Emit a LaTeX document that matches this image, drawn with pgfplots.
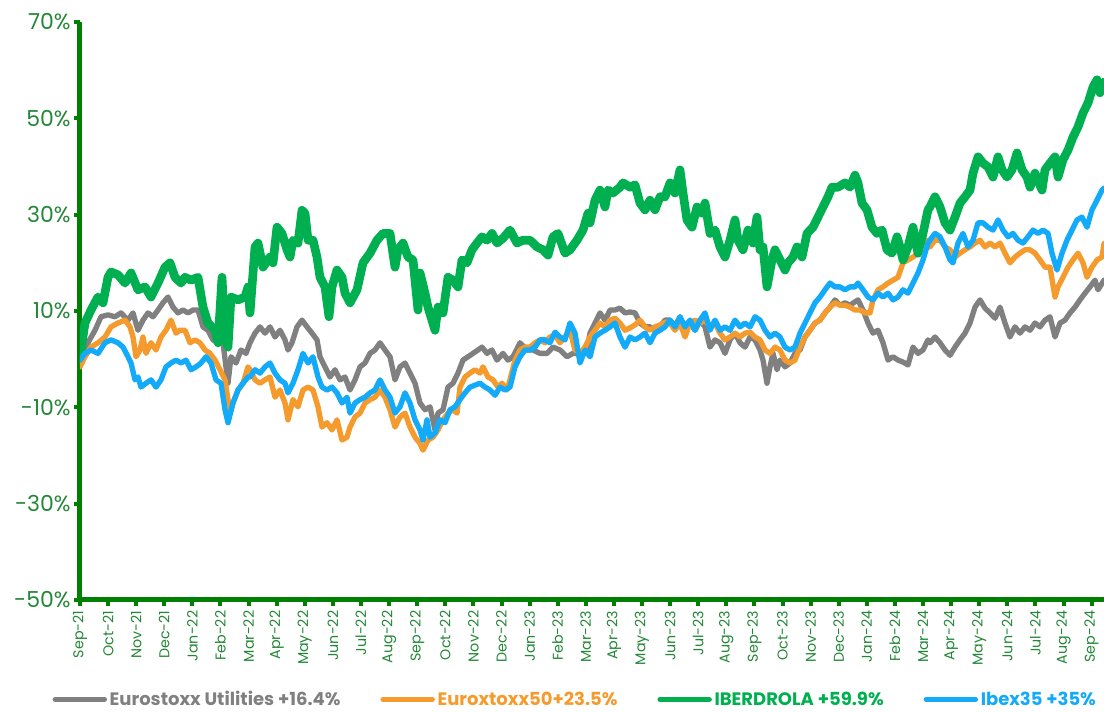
\documentclass[border=0pt]{standalone}
\usepackage{pgfplots}
\pgfplotsset{compat=1.18}
\usepackage{fontspec}
\setmainfont{Poppins}
\definecolor{cgray}{RGB}{128,128,128}
\definecolor{corange}{RGB}{245,155,45}
\definecolor{cgreen}{RGB}{0,176,80}
\definecolor{cblue}{RGB}{20,170,250}
\definecolor{axisgreen}{RGB}{0,128,0}
\definecolor{labelgreen}{RGB}{35,135,55}
\begin{document}
\begin{tikzpicture}
\begin{axis}[
  scale only axis, width=768pt, height=433.5pt,
  xmin=0, xmax=1024, ymin=-50, ymax=70,
  axis x line=bottom, axis y line=left,
  axis line style={-, line width=3.75pt, color=axisgreen},
  ytick={-50,-30,-10,10,30,50,70},
  yticklabels={-50\%,-30\%,-10\%,10\%,30\%,50\%,70\%},
  xtick={0,28.1,...,1012},
  xticklabels={Sep-21,Oct-21,Nov-21,Dec-21,Jan-22,Feb-22,Mar-22,Apr-22,May-22,Jun-22,Jul-22,Aug-22,Sep-22,Oct-22,Nov-22,Dec-22,Jan-23,Feb-23,Mar-23,Apr-23,May-23,Jun-23,Jul-23,Aug-23,Sep-23,Oct-23,Nov-23,Dec-23,Jan-24,Feb-24,Mar-24,Apr-24,May-24,Jun-24,Jul-24,Aug-24,Sep-24},
  tick style={line width=3pt, color=axisgreen},
  major tick length=4.5pt, tick align=outside,
  ticklabel style={text=labelgreen},
  y tick label style={font=\fontsize{16.5}{16.5}\selectfont, xshift=1pt},
  x tick label style={rotate=90, anchor=east, font=\fontsize{10.7}{10.7}\selectfont},
  legend columns=4,
  legend style={at={(0.484,-0.172)}, anchor=center, draw=none, fill=none,
    font=\fontsize{13.5}{14}\selectfont\bfseries,
    /tikz/every even column/.append style={column sep=28pt}},
  legend image code/.code={\draw[#1, line width=3.8pt] (0pt,0pt) -- (37pt,0pt);},
  every axis plot/.append style={line join=round, line cap=round},
]
\coordinate (O) at (rel axis cs:0,0);
\addplot[cgray, line width=4pt] coordinates {
(0,0) (8,3.4) (15,6) (21,8.8) (28,9.2) (35,8.8) (41,9.6) (48,8.1) (53,9.6) (58,6) (63,8.1) (68,9.6) (73,8.8) (78,10.2) (83,11.7) (88,12.9) (93,10.8) (98,9.6) (103,10.2) (108,9.6) (113,10.2) (118,10.2) (123,6.7) (128,6) (133,4) (138,3.4) (143,3.4) (148,-5) (151,0.5) (156,-0.8) (161,1.9) (166,1.2) (170,3.4) (175,5.4) (180,6.7) (185,5.4) (190,6.7) (195,4.6) (200,6) (205,4) (208,1.9) (212,3.4) (217,6.7) (222,8.1) (227,6.7) (232,5.4) (237,4) (240,0.5) (245,-1.6) (250,-3.7) (255,-2.2) (260,-4.3) (265,-3.7) (270,-6.4) (275,-4.3) (280,-1.6) (285,-0.8) (290,1.2) (295,1.9) (300,3.4) (305,1.9) (310,0.5) (315,-4.3) (320,-1.6) (325,-0.8) (330,-2.9) (335,-5) (340,-9.1) (345,-10.5) (350,-9.9) (355,-14.7) (358,-11.2) (363,-10.5) (368,-5.8) (373,-5) (378,-2.9) (383,-0.2) (388,0.5) (393,1.2) (398,1.9) (402,2.5) (407,1.2) (412,1.9) (417,-0.2) (423,1.2) (428,-0.2) (433,0.5) (440,3.4) (447,1.9) (453,1.9) (460,1.2) (467,1.2) (473,2.5) (480,1.9) (487,0.5) (493,1.2) (500,1.2) (507,1.9) (510,5.4) (515,7.5) (520,9.6) (525,8.1) (530,10.2) (535,10.2) (540,10.6) (545,9.6) (550,9.8) (555,9.6) (560,7.5) (565,6.7) (570,6.7) (575,6) (580,6.7) (585,8.1) (590,8.1) (595,6.7) (600,8.8) (605,6) (610,7.5) (615,6) (620,8.1) (625,6.7) (630,2.5) (635,4) (640,3.4) (645,1.2) (650,4) (655,5.4) (660,3.4) (665,2.5) (670,4.6) (675,4) (680,1.9) (683,-0.2) (687,-5) (690,-1.6) (693,1.2) (697,-2.2) (700,-0.2) (705,-1.6) (710,-0.8) (715,1.2) (720,1.9) (725,4.6) (730,6) (735,7.5) (740,8.1) (745,9.6) (750,10.8) (755,12.3) (760,11.2) (765,11.7) (770,11.2) (775,11.9) (778,12.3) (783,10.2) (788,7.5) (793,5.4) (798,6) (803,3.4) (808,-0.2) (813,0.5) (818,-0.2) (823,-0.6) (828,-1.2) (833,2.5) (838,1.2) (843,1.9) (848,4) (850,3.4) (855,4.6) (860,3.4) (865,1.9) (870,0.8) (875,2.5) (880,4) (885,5.4) (890,7.5) (895,10.8) (900,12.3) (905,10.6) (910,9.6) (915,8.5) (920,10.8) (925,7.5) (930,4.6) (935,6.7) (940,5.4) (945,6.7) (950,6) (955,7.5) (960,6.7) (965,8.1) (970,8.8) (975,4.6) (980,7.5) (985,8.1) (990,9.6) (995,10.8) (1000,12.3) (1005,13.7) (1010,15) (1015,16.4) (1018,14.4) (1024,16.4)
};
\addlegendentry{\textcolor{cgray}{Eurostoxx Utilities +16.4\%}}
\addplot[corange, line width=4pt] coordinates {
(0,-1.6) (5,0.5) (11,2.5) (18,3.4) (25,4.6) (31,6.7) (38,7.5) (45,8.1) (50,6.7) (53,4.6) (56,0.5) (60,1.9) (63,4.6) (66,1.2) (71,3.4) (76,1.9) (81,4.6) (86,6) (91,8.1) (96,5.4) (100,6) (105,6) (110,3.4) (115,4) (120,3.4) (125,1.9) (130,1.2) (135,-0.2) (140,-2.2) (145,-4.3) (150,-11.2) (153,-9.1) (158,-6.4) (163,-5) (168,-1.6) (170,-2.2) (175,-4.3) (180,-5) (185,-4.3) (190,-3.7) (195,-7.9) (200,-6.4) (205,-9.1) (208,-12.6) (213,-8.4) (218,-9.9) (223,-6.4) (228,-5.8) (233,-6.4) (238,-9.9) (242,-14.1) (247,-13.2) (252,-14.7) (257,-12.6) (262,-16.8) (267,-16.2) (270,-14.1) (275,-12) (280,-11.2) (285,-9.1) (290,-8.4) (295,-7.9) (300,-6.4) (305,-7.9) (310,-10.5) (315,-14.1) (320,-12) (325,-11.2) (330,-14.1) (335,-16.2) (340,-17.5) (343,-18.9) (348,-16.8) (353,-16.2) (358,-14.7) (363,-12.6) (368,-11.2) (373,-10.5) (377,-11.2) (380,-5.8) (385,-3.7) (390,-2.9) (395,-2.2) (400,-2.9) (403,-1.6) (408,-3.7) (413,-4.3) (418,-5.8) (422,-5) (427,-6.4) (430,-4.3) (435,-0.2) (440,1.9) (445,2.5) (450,2.5) (455,3.4) (460,4) (465,3.4) (470,4.6) (475,5) (480,3.4) (485,4.6) (490,6) (495,1.9) (500,1.2) (505,2.5) (510,4.6) (515,6) (520,7.5) (525,6.7) (530,8.1) (535,8.5) (540,7.5) (545,6) (550,6.5) (555,7.1) (560,8.1) (565,6.7) (570,6) (575,6.7) (580,7.1) (585,7.7) (590,7.5) (595,6) (600,7.5) (605,4.6) (610,7.5) (615,8.1) (620,7.5) (625,8.1) (630,6.7) (635,7.5) (640,5.4) (645,4) (650,4.6) (655,5.4) (660,4.6) (665,5.4) (670,5.6) (675,4.6) (680,4) (685,1.9) (690,1.2) (695,2.5) (700,1.9) (705,-0.2) (710,-0.8) (715,-0.2) (720,2.5) (725,4.6) (730,6) (735,7.5) (740,8.1) (745,9.6) (750,10.8) (755,11.7) (760,11.2) (765,11.2) (770,10.8) (775,10.2) (780,10.2) (785,9.6) (790,9.6) (793,12.3) (798,14.4) (803,15) (808,15.8) (813,16.4) (818,17) (823,20) (828,20.6) (833,21.2) (838,22) (843,24.1) (848,24.7) (850,23.3) (855,24.7) (860,24.7) (865,23.3) (870,22.7) (875,21.2) (880,22) (885,22.7) (890,23.3) (895,24.1) (900,24.7) (905,23.3) (910,24.1) (915,23.3) (920,24.1) (925,22) (930,20) (935,21.2) (940,22) (945,22.7) (950,22.7) (955,22) (960,20.6) (965,19.1) (970,19.1) (975,12.9) (978,15) (983,17) (988,19.1) (993,20.6) (998,22) (1003,20) (1007,17) (1012,19.1) (1017,20.6) (1022,21.2) (1024,24)
};
\addlegendentry{\textcolor{corange}{Euroxtoxx50+23.5\%}}
\addplot[cgreen, line width=6.5pt] coordinates {
(0,0.5) (5,7.5) (11,10.2) (18,12.9) (23,11.7) (28,17) (31,18.1) (38,17.5) (45,15.8) (51,17.9) (58,14.4) (65,15) (71,12.9) (78,15.8) (85,19.1) (90,20) (95,17) (101,15.8) (105,17) (111,16.4) (118,17) (123,10.8) (128,7.5) (135,6) (138,3.4) (142,17) (145,4.6) (148,2.5) (151,12.9) (158,12.3) (165,12.9) (168,15) (170,9.6) (175,23.3) (178,24.1) (183,19.1) (190,21.2) (193,20) (197,27.4) (202,26.1) (207,22.7) (210,21.2) (213,24.7) (218,24.1) (222,30.9) (225,30.3) (228,24.7) (233,24.7) (237,21.2) (240,17) (245,15) (249,8.8) (252,15) (257,18.5) (262,17) (265,13.7) (270,11.7) (277,14.4) (283,20) (290,22) (297,24.7) (303,26.1) (310,26.1) (315,19.1) (318,22.7) (323,24.1) (328,21.2) (333,20.6) (338,10.2) (340,17.9) (345,13.7) (348,10.8) (355,6) (358,10.8) (363,9.6) (368,17) (373,16.4) (378,15) (382,20.6) (387,20) (392,22.7) (397,24.1) (402,25.4) (407,24.7) (412,26.1) (417,24.1) (423,25.1) (430,26.8) (437,24.1) (443,24.7) (450,24.7) (457,23.3) (463,22.7) (468,21.6) (473,25.4) (478,26.1) (485,22) (490,22.7) (497,24.7) (503,26.8) (508,30.3) (510,28.3) (515,33) (520,35.1) (525,31.6) (528,35.1) (533,34.5) (540,35.7) (543,36.6) (550,35.7) (555,36.2) (560,32.4) (565,31) (570,33) (575,31) (580,33.7) (585,33.7) (590,36.6) (595,34.5) (600,39.3) (603,34.5) (607,28.9) (612,27.4) (617,31.6) (622,30.3) (625,32.4) (630,26.1) (635,26.8) (640,23.3) (645,21.2) (650,24.7) (655,28.9) (658,24.7) (663,22.7) (668,26.8) (673,24.1) (677,29.5) (680,22.7) (683,23.3) (687,15) (692,20.6) (695,22.7) (700,20.6) (705,18.5) (708,20) (713,21.2) (717,23.3) (722,21.2) (727,26.1) (733,27.4) (738,29.5) (743,31.6) (748,33.7) (752,35.7) (758,35.7) (765,36.6) (770,35.7) (775,38.2) (778,36.6) (782,32.4) (787,31) (792,27.4) (797,26.1) (802,26.8) (807,22.7) (812,22) (817,25.4) (820,23.3) (823,20.6) (828,23.3) (833,27.4) (838,22) (843,26.1) (848,31) (850,31.6) (855,33.7) (860,31.6) (865,28.3) (870,26.8) (875,29.5) (880,32.4) (885,33.7) (890,35.1) (893,38.6) (898,42) (903,40.7) (908,39.9) (913,37.8) (918,42) (922,39.3) (927,37.8) (932,39.3) (937,42.8) (942,39.3) (947,37.8) (950,35.7) (955,38.6) (962,35.1) (965,39.3) (970,40.7) (975,42) (978,37.8) (983,41.4) (988,43.4) (993,46.1) (998,48.2) (1003,51.1) (1008,53.2) (1013,56.5) (1017,58) (1020,55.3) (1024,57.5)
};
\addlegendentry{\textcolor{cgreen}{IBERDROLA +59.9\%}}
\addplot[cblue, line width=4pt] coordinates {
(0,-0.2) (5,1.2) (11,1.9) (18,1.2) (25,3.4) (31,4) (38,3.4) (43,2.5) (48,0.5) (51,-0.8) (55,-4.3) (58,-3.7) (61,-5.8) (66,-5) (71,-4.3) (76,-5.8) (81,-4.3) (86,-1.6) (91,-0.8) (96,-0.2) (101,-0.8) (106,-0.2) (111,-2.2) (116,-1.6) (121,-0.8) (126,0.5) (131,-0.8) (136,-4.3) (141,-5) (145,-10.5) (148,-13.2) (153,-9.1) (158,-6.4) (163,-5) (168,-3.7) (170,-3.7) (175,-2.2) (180,-2.9) (185,-1.6) (190,-0.8) (195,-2.9) (200,-4.3) (205,-5) (208,-7) (213,-5) (218,-2.2) (223,1.2) (228,-0.8) (233,0.5) (238,-3.7) (242,-5.8) (247,-6.4) (252,-5.8) (257,-7) (262,-9.1) (267,-7.9) (270,-11.2) (275,-9.1) (280,-8.4) (285,-7.9) (290,-7) (295,-6.4) (300,-4.3) (305,-6.4) (310,-7.9) (315,-11.2) (320,-9.9) (325,-7) (330,-9.1) (335,-12.6) (340,-14.7) (343,-16.8) (347,-12.6) (350,-16.2) (355,-15.3) (360,-12.6) (365,-13.2) (370,-10.5) (375,-9.9) (380,-8.4) (385,-7) (390,-5.8) (395,-5.4) (400,-5) (405,-5.8) (410,-6.4) (415,-7.5) (420,-5.8) (425,-6.4) (430,-5.8) (435,-1.6) (440,0.5) (445,1.9) (450,1.9) (455,2.5) (460,4) (465,4) (470,3.4) (475,5.6) (480,4.6) (485,4) (490,7.5) (495,5.4) (500,-0.8) (505,1.9) (510,0.5) (515,4.6) (520,5.4) (525,6) (530,6.7) (535,7.5) (540,4.6) (545,2.5) (550,4.6) (555,4) (560,4.6) (565,5.4) (570,3.4) (575,5.4) (580,6) (585,6.7) (590,8.1) (595,6.7) (600,8.8) (605,6.7) (610,8.1) (615,6) (620,8.1) (625,9.6) (630,6) (635,8.1) (640,6) (645,6.7) (650,6) (655,8.1) (660,6.7) (665,7.5) (670,6.7) (675,8.8) (680,8.1) (685,6) (690,4.6) (695,5.4) (700,4.6) (705,2.5) (710,1.9) (715,2.5) (720,5.4) (725,7.5) (730,9.6) (735,11.7) (740,12.9) (745,14.4) (750,15.8) (755,15) (760,15) (765,14.4) (770,15) (775,15) (778,15.8) (783,14.4) (788,12.9) (793,12.3) (798,13.7) (803,12.9) (808,13.7) (813,12.3) (818,12.9) (823,14.4) (828,13.7) (833,15.8) (838,17.9) (843,20.6) (848,24.1) (850,24.7) (855,26.1) (860,25.4) (865,23.3) (870,20.6) (873,20) (878,24.1) (883,26.1) (888,23.3) (893,24.7) (898,28.3) (903,28.3) (908,27.4) (913,26.8) (918,28.9) (923,26.8) (928,25.4) (933,26.1) (938,24.7) (943,24.1) (948,25.4) (953,26.8) (958,26.1) (963,26.8) (968,26.1) (972,22) (977,18.5) (982,22) (987,24.7) (992,26.8) (997,28.9) (1002,29.5) (1007,27.4) (1012,31) (1017,33) (1022,35.1) (1024,35.5)
};
\addlegendentry{\textcolor{cblue}{Ibex35 +35\%}}
\end{axis}
\pgfresetboundingbox
\path (O) ++(-60pt,-84pt) rectangle ++(828pt,534pt);
\end{tikzpicture}
\end{document}
